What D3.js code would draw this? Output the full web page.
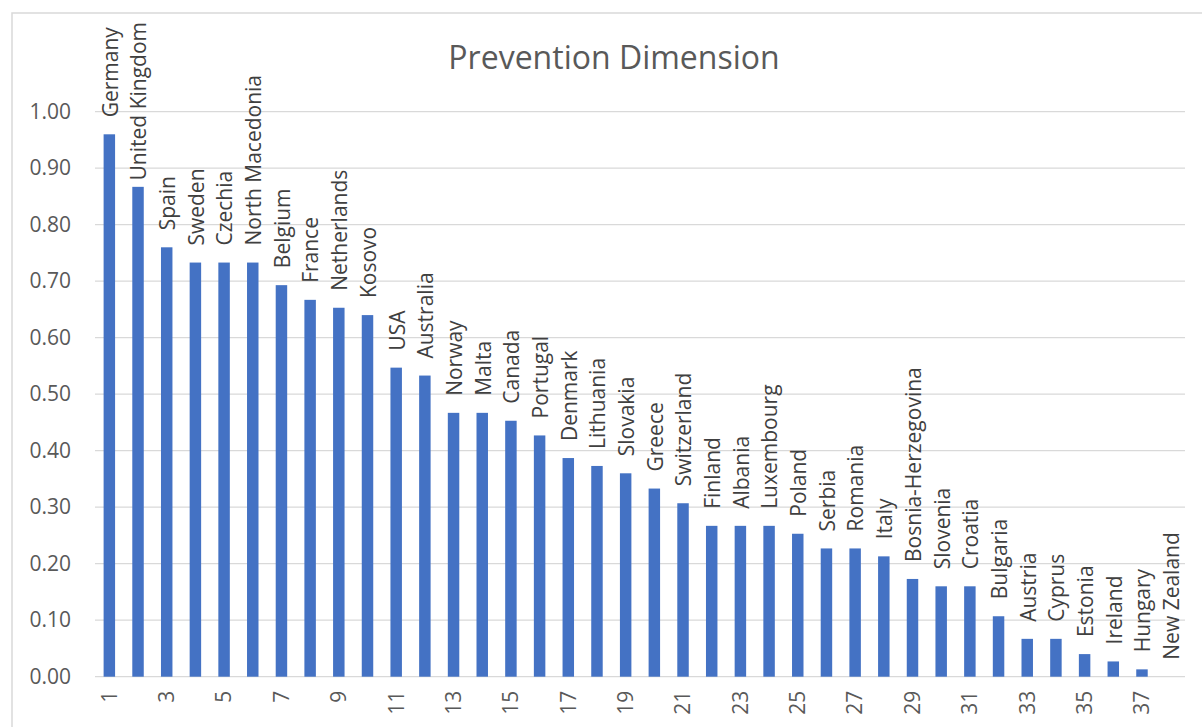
<!DOCTYPE html>
<html>
<head>
<meta charset="utf-8">
<script src="https://cdn.jsdelivr.net/npm/d3@7"></script>
<style>
  html, body { margin: 0; padding: 0; background: #fff; }
  svg { display: block; }
</style>
</head>
<body>
<svg id="chart" width="1202" height="727"></svg>
<script>
const countries = ["Germany","United Kingdom","Spain","Sweden","Czechia","North Macedonia","Belgium","France","Netherlands","Kosovo","USA","Australia","Norway","Malta","Canada","Portugal","Denmark","Lithuania","Slovakia","Greece","Switzerland","Finland","Albania","Luxembourg","Poland","Serbia","Romania","Italy","Bosnia-Herzegovina","Slovenia","Croatia","Bulgaria","Austria","Cyprus","Estonia","Ireland","Hungary","New Zealand"];
const ranks = countries.map((_, i) => String(i + 1));
const values = [0.96,0.867,0.76,0.733,0.733,0.733,0.693,0.667,0.653,0.64,0.547,0.533,0.467,0.467,0.453,0.427,0.387,0.373,0.36,0.333,0.307,0.267,0.267,0.267,0.253,0.227,0.227,0.213,0.173,0.16,0.16,0.107,0.067,0.067,0.04,0.027,0.013,0];
const yTicks = [0,0.1,0.2,0.3,0.4,0.5,0.6,0.7,0.8,0.9,1.0];
const titleText = "Prevention Dimension";

const svg = d3.select("#chart");
const font = "'Open Sans', 'Noto Sans', sans-serif";

// chart border
svg.append("rect")
  .attr("x", 12).attr("y", 13)
  .attr("width", 1220).attr("height", 740)
  .attr("fill", "none").attr("stroke", "#d9d9d9").attr("stroke-width", 1.5);

const x = d3.scaleBand().domain(ranks).range([95, 1185]).paddingInner(0.6).paddingOuter(0.3);
const y = d3.scaleLinear().domain([0, 1]).range([676.7, 111.7]);

// gridlines
svg.append("g").selectAll("line").data(yTicks).join("line")
  .attr("x1", 95).attr("x2", 1185)
  .attr("y1", d => y(d)).attr("y2", d => y(d))
  .attr("stroke", "#d9d9d9").attr("stroke-width", 1.3);

// y axis labels
const yAxis = d3.axisLeft(y).tickValues(yTicks).tickFormat(d3.format(".2f")).tickSize(0).tickPadding(24);
const gy = svg.append("g").attr("transform", "translate(95,0)").call(yAxis);
gy.select(".domain").remove();
gy.selectAll("text").attr("font-family", font).attr("font-size", 21).attr("fill", "#595959");

// bars
svg.append("g").selectAll("rect").data(values).join("rect")
  .attr("x", (d, i) => x(ranks[i]))
  .attr("width", x.bandwidth())
  .attr("y", d => y(d))
  .attr("height", d => y(0) - y(d))
  .attr("fill", "#4472C4");

// x axis labels (odd only)
const xAxis = d3.axisBottom(x).tickValues(ranks.filter((d, i) => i % 2 === 0)).tickSize(0).tickPadding(0);
const gx = svg.append("g").attr("transform", `translate(0,${y(0)})`).call(xAxis);
gx.select(".domain").remove();
gx.selectAll("text")
  .attr("font-family", font).attr("font-size", 21).attr("fill", "#595959")
  .attr("transform", "rotate(-90)")
  .attr("text-anchor", "end")
  .attr("x", -14).attr("y", 0).attr("dy", "0.35em");

// data labels (kept inside the chart area like Excel does)
svg.append("g").selectAll("text").data(values).join("text")
  .attr("dy", "0.35em")
  .attr("text-anchor", "start")
  .attr("font-family", font).attr("font-size", 21).attr("fill", "#404040")
  .text((d, i) => countries[i])
  .each(function(d, i) {
    const len = this.getComputedTextLength();
    const base = Math.max(y(d) - 17, 22 + len);
    d3.select(this).attr("transform",
      `translate(${x(ranks[i]) + x.bandwidth() / 2 + 1},${base}) rotate(-90)`);
  });

// title
svg.append("text")
  .attr("x", 614).attr("y", 69)
  .attr("text-anchor", "middle")
  .attr("font-family", font).attr("font-size", 32).attr("fill", "#595959")
  .text(titleText);
</script>
</body>
</html>
